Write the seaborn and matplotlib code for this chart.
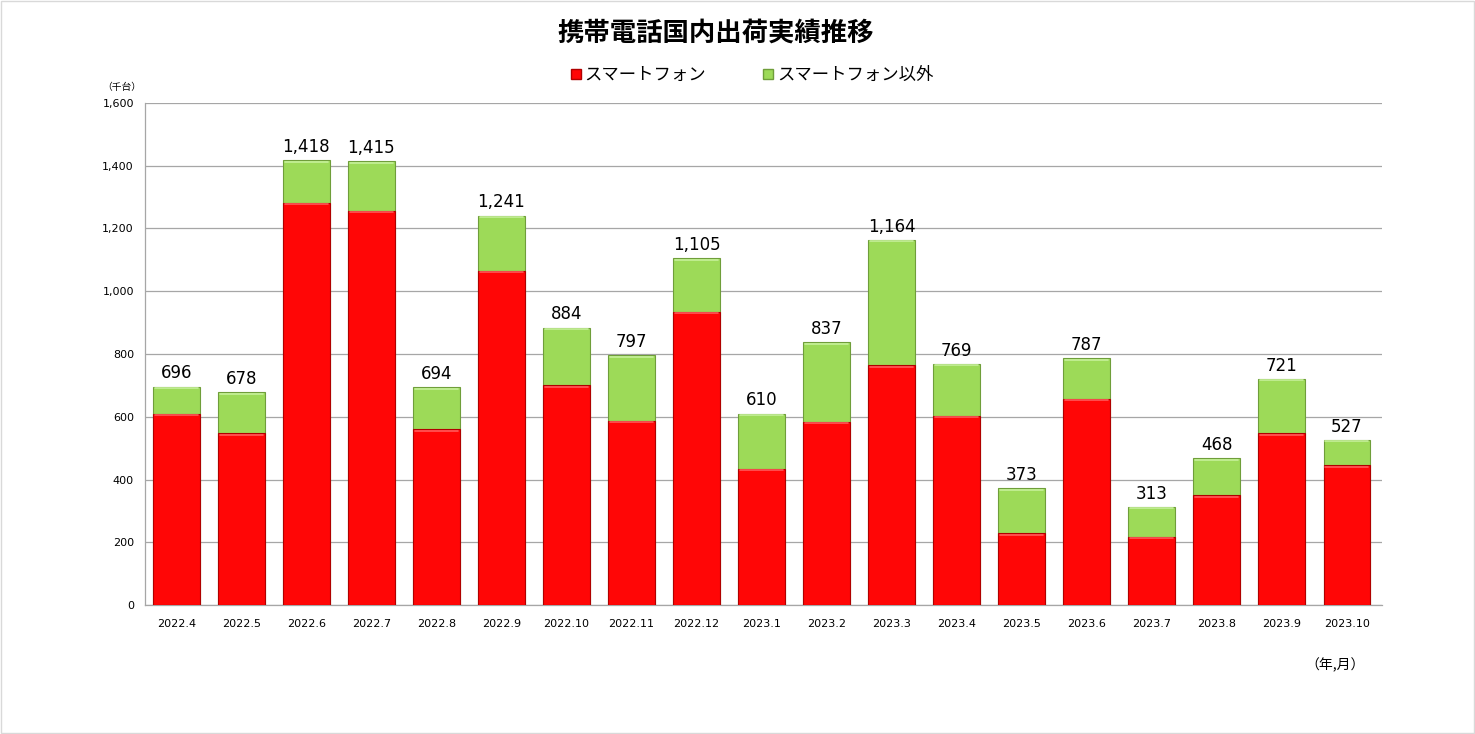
import pandas as pd
import matplotlib
matplotlib.use('Agg')
import matplotlib.pyplot as plt
import seaborn as sb
from matplotlib.patches import Rectangle
from matplotlib.lines import Line2D

months = ['2022.4', '2022.5', '2022.6', '2022.7', '2022.8', '2022.9', '2022.10',
          '2022.11', '2022.12', '2023.1', '2023.2', '2023.3', '2023.4', '2023.5',
          '2023.6', '2023.7', '2023.8', '2023.9', '2023.10']
totals = [696, 678, 1418, 1415, 694, 1241, 884, 797, 1105, 610, 837, 1164,
          769, 373, 787, 313, 468, 721, 527]
smartphone = [610, 547, 1282, 1256, 560, 1065, 700, 587, 935, 434, 584, 765,
              604, 229, 657, 218, 350, 547, 445]

red = '#ff0606'
green = '#9dda58'

sb.set_style('white')
plt.rcParams['font.family'] = ['Noto Sans CJK JP', 'DejaVu Sans']
plt.rcParams['text.color'] = 'black'
plt.rcParams['xtick.color'] = 'black'
plt.rcParams['ytick.color'] = 'black'

df = pd.DataFrame({'month': months, 'total': totals, 'smartphone': smartphone})

fig = plt.figure(figsize=(14.75, 7.34), dpi=100)
ax = fig.add_axes([0.0983, 0.1757, 0.8387, 0.684])

# green = total, red drawn over it from zero
sb.barplot(data=df, x='month', y='total', color=green, saturation=1, width=0.72,
           edgecolor='#6f9e3a', linewidth=0.8, ax=ax, zorder=2)
sb.barplot(data=df, x='month', y='smartphone', color=red, saturation=1, width=0.72,
           edgecolor='#b00000', linewidth=0.8, ax=ax, zorder=3)

# light bevel line near the top of each segment
for bar in ax.containers[0]:
    ax.plot([bar.get_x() + 0.03, bar.get_x() + bar.get_width() - 0.03],
            [bar.get_height() - 5] * 2, color='#c6f09a', lw=1.2, zorder=4)
for bar in ax.containers[1]:
    ax.plot([bar.get_x() + 0.03, bar.get_x() + bar.get_width() - 0.03],
            [bar.get_height() - 5] * 2, color='#ff5a5a', lw=1.2, zorder=4)

ax.bar_label(ax.containers[0], labels=[f'{v:,}' for v in totals], padding=3,
             fontsize=12, family=['DejaVu Sans'])

ax.set_ylim(0, 1600)
ax.set_yticks(range(0, 1601, 200))
ax.set_yticklabels([f'{v:,}' for v in range(0, 1601, 200)], fontsize=8, family=['DejaVu Sans'])
ax.set_xlim(-0.48, 18.54)
ax.tick_params(axis='x', labelsize=8, length=0, pad=10)
ax.tick_params(axis='y', length=0, pad=8)
for lbl in ax.get_xticklabels():
    lbl.set_family(['DejaVu Sans'])
ax.set_xlabel('')
ax.set_ylabel('')
ax.yaxis.grid(True, color='#a6a6a6', linewidth=0.9, zorder=0)
ax.set_axisbelow(True)
for s in ['top', 'right']:
    ax.spines[s].set_visible(False)
for s in ['left', 'bottom']:
    ax.spines[s].set_color('#a6a6a6')
    ax.spines[s].set_linewidth(0.9)

fig.text(0.485, 0.955, '携帯電話国内出荷実績推移', ha='center', va='center',
         fontsize=19, fontweight='bold')
fig.text(0.069, 0.882, '（千台）', ha='left', va='center', fontsize=7)
fig.text(0.905, 0.094, '（年,月）', ha='center', va='center', fontsize=10)

handles = [Line2D([], [], marker='s', linestyle='', markersize=7.5, markerfacecolor=red,
                  markeredgecolor='#b00000', label='スマートフォン'),
           Line2D([], [], marker='s', linestyle='', markersize=7.5, markerfacecolor=green,
                  markeredgecolor='#6f9e3a', label='スマートフォン以外')]
fig.legend(handles=handles, loc='center', bbox_to_anchor=(0.508, 0.898), ncol=2,
           frameon=False, fontsize=12.5, columnspacing=3.0, handletextpad=-0.1,
           handlelength=1.2)

fig.patches.append(Rectangle((0.001, 0.001), 0.998, 0.998, transform=fig.transFigure,
                             fill=False, edgecolor='#d9d9d9', linewidth=1))

fig.savefig('out.png', dpi=100)
